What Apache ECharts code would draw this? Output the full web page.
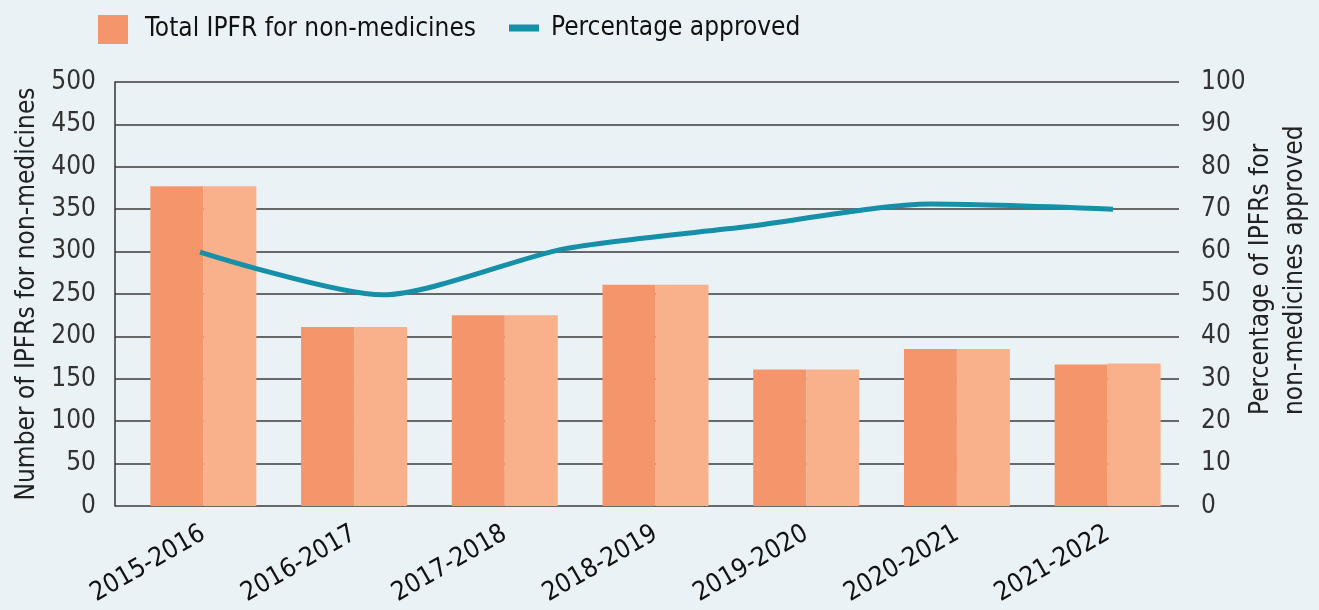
<!DOCTYPE html>
<html>
<head>
<meta charset="utf-8">
<script src="https://cdn.jsdelivr.net/npm/echarts@6/dist/echarts.min.js"></script>
<style>
  html, body { margin: 0; padding: 0; background: #eaf2f6; }
  #chart { width: 1319px; height: 610px; }
</style>
</head>
<body>
<div id="chart"></div>
<script>
// data
const years = ['2015-2016', '2016-2017', '2017-2018', '2018-2019', '2019-2020', '2020-2021', '2021-2022'];
const totalIpfr = [377, 211, 225, 261, 161, 185, 167];
const totalIpfrShade = [377, 211, 225, 261, 161, 185, 168];
// the percentage line is drawn over 6 evenly spaced points in the original
const pctPoints = ['p1', 'p2', 'p3', 'p4', 'p5', 'p6'];
const pctApproved = [59.9, 49.8, 60.7, 65.9, 71.2, 70.0];
const leftTicks = [0, 500, 50];
const rightTicks = [0, 100, 10];

const FONT = '"DejaVu Sans Condensed", "Liberation Sans", sans-serif';
const FS = 26;
const BAR_DARK = '#f5956b';
const BAR_LIGHT = '#f8b18b';
const TEAL = '#168fa8';

let chart = echarts.init(document.getElementById('chart'));

let hiddenY = (max) => ({
  show: false, min: 0, max: max,
  splitLine: { show: false }
});

let gridBox = (left, right) => ({
  left: left, right: right, top: 82, bottom: 104,
  containLabel: false, outerBoundsMode: 'none'
});

let option = {
  backgroundColor: '#eaf2f6',
  animation: false,
  textStyle: { fontFamily: FONT },
  legend: [{
    left: 93, top: 10,
    itemWidth: 30, itemHeight: 29,
    icon: 'rect',
    data: ['Total IPFR for non-medicines'],
    textStyle: { fontFamily: FONT, fontSize: FS, color: '#111', padding: [0, 0, 0, 12] }
  }, {
    left: 504, top: 10,
    itemWidth: 30, itemHeight: 7,
    icon: 'rect',
    data: ['Percentage approved'],
    textStyle: { fontFamily: FONT, fontSize: FS, color: '#111', padding: [0, 0, 0, 7] }
  }],
  grid: [
    gridBox(115, 140),   // axes and gridlines
    gridBox(128, 136),   // bars
    gridBox(200, 206)    // line
  ],
  xAxis: [
    { type: 'category', gridIndex: 0, data: years, show: false },
    {
      type: 'category', gridIndex: 1, data: years,
      axisLine: { show: false }, axisTick: { show: false },
      axisLabel: { rotate: 30, margin: 26, fontSize: FS, color: '#111', fontFamily: FONT }
    },
    { type: 'category', gridIndex: 2, data: pctPoints, boundaryGap: false, show: false }
  ],
  yAxis: [
    {
      type: 'value', gridIndex: 0, position: 'left',
      min: leftTicks[0], max: leftTicks[1], interval: leftTicks[2],
      name: 'Number of IPFRs for non-medicines',
      nameLocation: 'middle', nameGap: 67,
      nameTextStyle: { fontFamily: FONT, fontSize: FS, color: '#222' },
      axisLine: { show: true, lineStyle: { color: '#333', width: 1.5 } },
      axisTick: { show: false },
      axisLabel: { fontSize: FS, color: '#333', margin: 19, padding: [10, 0, 0, 0], fontFamily: FONT },
      splitLine: { show: true, lineStyle: { color: '#3a3a3a', width: 1.5 } }
    },
    {
      type: 'value', gridIndex: 0, position: 'right',
      min: rightTicks[0], max: rightTicks[1], interval: rightTicks[2],
      axisLine: { show: false }, axisTick: { show: false },
      axisLabel: { fontSize: FS, color: '#333', margin: 22, padding: [0, 0, 8, 0], fontFamily: FONT },
      splitLine: { show: false }
    },
    Object.assign({ type: 'value', gridIndex: 1 }, hiddenY(leftTicks[1])),
    Object.assign({ type: 'value', gridIndex: 2 }, hiddenY(rightTicks[1]))
  ],
  graphic: [{
    type: 'text',
    x: 1278, y: 415,
    rotation: Math.PI / 2,
    style: {
      text: 'Percentage of IPFRs for\nnon-medicines approved',
      font: FS + 'px ' + FONT,
      fill: '#222',
      align: 'left',
      verticalAlign: 'middle',
      lineHeight: 34
    }
  }],
  series: [
    {
      name: 'Total IPFR for non-medicines',
      type: 'bar', xAxisIndex: 1, yAxisIndex: 2,
      data: totalIpfr,
      barWidth: 53, barGap: '0%',
      itemStyle: { color: BAR_DARK }
    },
    {
      name: 'shade',
      type: 'bar', xAxisIndex: 1, yAxisIndex: 2,
      data: totalIpfrShade,
      barWidth: 53, barGap: '0%',
      itemStyle: { color: BAR_LIGHT }
    },
    {
      name: 'Percentage approved',
      type: 'line', xAxisIndex: 2, yAxisIndex: 3,
      data: pctApproved,
      smooth: 0.25,
      symbol: 'none',
      itemStyle: { color: TEAL },
      lineStyle: { color: TEAL, width: 5 },
      z: 5
    }
  ]
};

chart.setOption(option);
</script>
</body>
</html>
